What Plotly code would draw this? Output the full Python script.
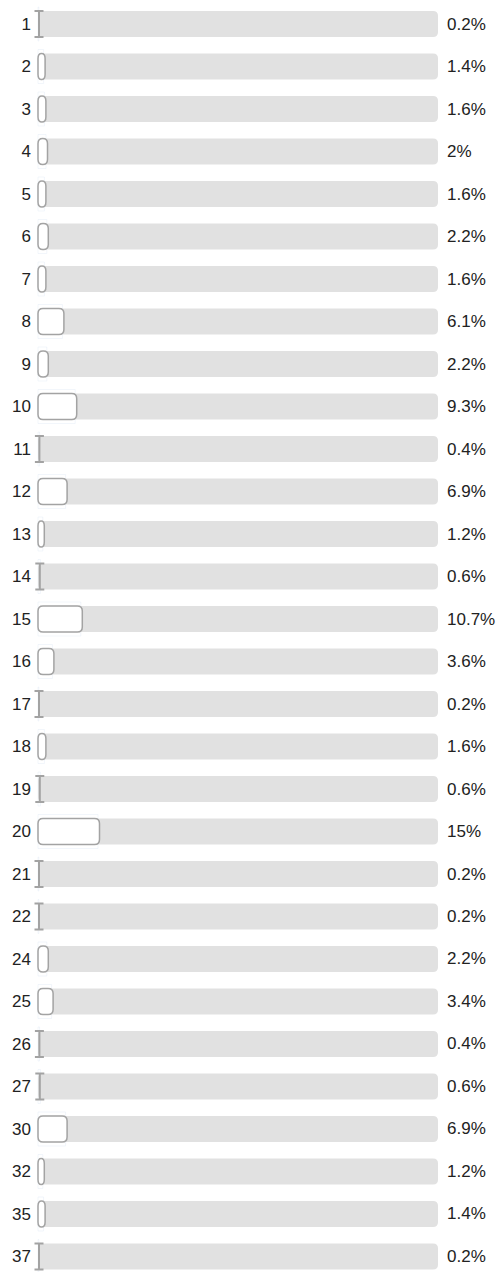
import plotly.graph_objects as go

# answers (category labels) and share of responses in percent
labels = ["1", "2", "3", "4", "5", "6", "7", "8", "9", "10",
          "11", "12", "13", "14", "15", "16", "17", "18", "19", "20",
          "21", "22", "24", "25", "26", "27", "30", "32", "35", "37"]
values = [0.2, 1.4, 1.6, 2, 1.6, 2.2, 1.6, 6.1, 2.2, 9.3,
          0.4, 6.9, 1.2, 0.6, 10.7, 3.6, 0.2, 1.6, 0.6, 15,
          0.2, 0.2, 2.2, 3.4, 0.4, 0.6, 6.9, 1.2, 1.4, 0.2]
value_text = [f"{v:g}%" for v in values]
full_scale = 100

TRACK_COLOR = "#e1e1e1"
BORDER_COLOR = "#a3a3a3"
TEXT_COLOR = "#222222"
FONT = "Liberation Sans, Arial, sans-serif"

# axis scale: 4 px per percent on x, 42.5 px per row on y
PX_X = 4.0
PX_Y = 42.5
BAR_HEIGHT = 26 / PX_Y
RADIUS_PX = 5
BORDER_PX = 1.5
TINY_PX = 3      # bars narrower than this are drawn as a thin "I"
CAP_PX = 4.5


def rounded_rect(x0, x1, yc, h, r_px):
    y0 = yc - h / 2
    y1 = yc + h / 2
    rx = min(r_px / PX_X, (x1 - x0) / 2)
    ry = min(r_px / PX_Y, h / 2)
    return (
        f"M {x0 + rx},{y0} L {x1 - rx},{y0} Q {x1},{y0} {x1},{y0 + ry} "
        f"L {x1},{y1 - ry} Q {x1},{y1} {x1 - rx},{y1} "
        f"L {x0 + rx},{y1} Q {x0},{y1} {x0},{y1 - ry} "
        f"L {x0},{y0 + ry} Q {x0},{y0} {x0 + rx},{y0} Z"
    )


def i_beam(xs, yc, h):
    y0 = yc - h / 2
    y1 = yc + h / 2
    c = CAP_PX / PX_X
    return (
        f"M {xs - c},{y0} L {xs + c},{y0} "
        f"M {xs},{y0} L {xs},{y1} "
        f"M {xs - c},{y1} L {xs + c},{y1}"
    )


def plot_tracks(fig: go.Figure):
    for i in range(len(labels)):
        fig.add_shape(
            type="path",
            path=rounded_rect(0, full_scale, i, BAR_HEIGHT, RADIUS_PX),
            xref="x",
            yref="y",
            fillcolor=TRACK_COLOR,
            line=dict(width=0),
            layer="above",
        )


def plot_value_bars(fig: go.Figure):
    for i, v in enumerate(values):
        if v * PX_X < TINY_PX:
            fig.add_shape(
                type="path",
                path=i_beam(v / 2 + 0.15, i, BAR_HEIGHT),
                xref="x",
                yref="y",
                line=dict(color=BORDER_COLOR, width=2),
                layer="above",
            )
            continue
        x1 = v + BORDER_PX / PX_X
        fig.add_shape(
            type="path",
            path=rounded_rect(0, x1, i, BAR_HEIGHT, RADIUS_PX),
            xref="x",
            yref="y",
            fillcolor="white",
            line=dict(color=BORDER_COLOR, width=BORDER_PX),
            layer="above",
        )


def plot_value_labels(fig: go.Figure):
    for i, t in enumerate(value_text):
        fig.add_annotation(
            x=full_scale,
            y=i,
            xref="x",
            yref="y",
            text=t,
            showarrow=False,
            xanchor="left",
            yanchor="middle",
            xshift=7,
            font=dict(size=17, color=TEXT_COLOR, family=FONT),
        )


fig = go.Figure()

# invisible bars carry the data and set up the category axis
fig.add_trace(go.Bar(
    y=labels,
    x=values,
    orientation="h",
    marker=dict(color="rgba(0,0,0,0)"),
    text=value_text,
    textposition="none",
))

plot_tracks(fig)
plot_value_bars(fig)
plot_value_labels(fig)

fig.update_layout(
    width=501,
    height=1272,
    margin=dict(l=34, r=0, t=0, b=0),
    showlegend=False,
    plot_bgcolor="white",
    paper_bgcolor="white",
    xaxis=dict(
        range=[-1, 115.75],
        visible=False,
        fixedrange=True,
    ),
    yaxis=dict(
        type="category",
        categoryorder="array",
        categoryarray=labels,
        range=[29.365, -0.565],
        showgrid=False,
        zeroline=False,
        showline=False,
        ticks="",
        ticklabelstandoff=2,
        tickfont=dict(size=17, color=TEXT_COLOR, family=FONT),
        fixedrange=True,
    ),
)

fig.write_html(
    "out.html",
    config=dict(displayModeBar=False),
    post_script="document.body.style.margin='0';document.body.style.overflow='hidden';",
)
